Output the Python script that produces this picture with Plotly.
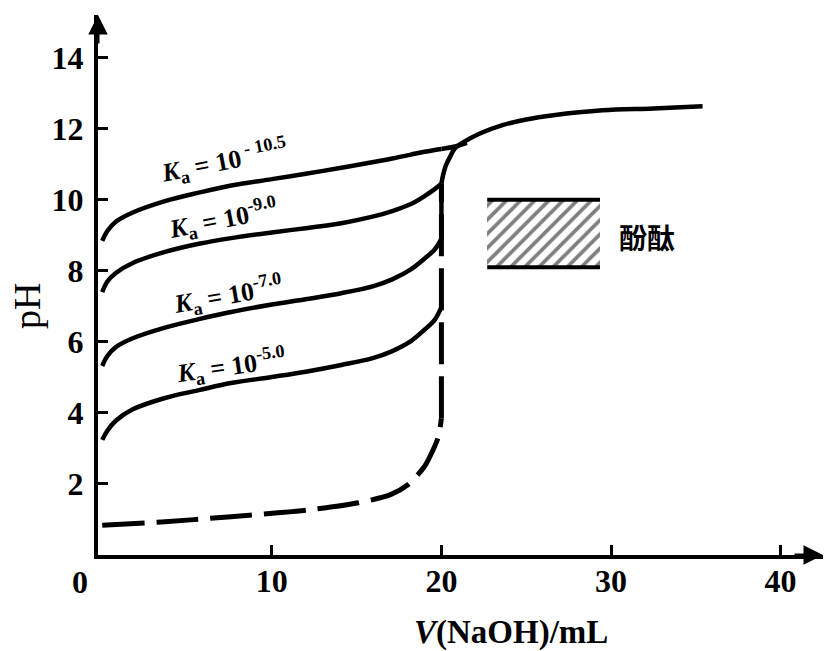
import plotly.graph_objects as go

# ---------------- data ----------------
# weak acids titrated with NaOH, V(NaOH)/mL vs pH
v_weak = [0, 0.3, 0.8, 1.8, 3.7, 5.7, 7.6, 10.0, 12.0, 14.1, 16.0, 17.1, 18.2, 19.0, 19.6, 20.0]
ph_ka_10_5 = [8.84, 9.12, 9.38, 9.64, 9.96, 10.2, 10.4, 10.58, 10.73, 10.9, 11.06, 11.16, 11.27, 11.35, 11.4, 11.43]
ph_ka_9 = [7.4, 7.7, 7.94, 8.22, 8.53, 8.76, 8.92, 9.08, 9.2, 9.34, 9.53, 9.68, 9.88, 10.1, 10.3, 10.45]
ph_ka_7 = [5.32, 5.6, 5.85, 6.1, 6.4, 6.64, 6.84, 7.05, 7.2, 7.37, 7.57, 7.76, 8.04, 8.34, 8.6, 8.9]
ph_ka_5 = [3.24, 3.5, 3.78, 4.1, 4.42, 4.64, 4.84, 5.01, 5.16, 5.35, 5.55, 5.74, 6.02, 6.34, 6.62, 6.98]

# tail of the Ka = 10^-10.5 curve after it crosses the excess-base curve
v_ka_10_5_tail = [20.0, 20.8, 21.5]
ph_ka_10_5_tail = [11.43, 11.5, 11.6]

# strong acid (dashed)
v_strong = [0, 3.5, 7.4, 10.2, 12.2, 15.1, 17.0, 18.0, 19.0, 19.5, 19.82, 20.0]
ph_strong = [0.84, 0.93, 1.07, 1.18, 1.27, 1.47, 1.7, 1.97, 2.49, 2.95, 3.33, 3.85]

# after the equivalence point (excess NaOH, common to all curves)
v_excess = [20.0, 20.1, 20.25, 20.5, 20.8, 21.3, 22.3, 23.6, 25.0, 26.6, 29.5, 32.5, 35.4]
ph_excess = [10.45, 10.7, 10.95, 11.2, 11.45, 11.62, 11.87, 12.1, 12.26, 12.38, 12.52, 12.57, 12.63]

v_equivalence = 20.0

# phenolphthalein colour-change range
indicator_name = "酚酞"
indicator_ph = [8.1, 10.0]
indicator_v = [22.7, 29.35]

ka_labels = [
    "<b><i>K</i><sub>a</sub> = 10<sup> - 10.5</sup></b>",
    "<b><i>K</i><sub>a</sub> = 10<sup>-9.0</sup></b>",
    "<b><i>K</i><sub>a</sub> = 10<sup>-7.0</sup></b>",
    "<b><i>K</i><sub>a</sub> = 10<sup>-5.0</sup></b>",
]
ka_label_x = [7.2, 7.1, 7.4, 7.6]
ka_label_y = [11.1, 9.45, 7.32, 5.32]
ka_label_angle = [-11, -11, -10, -8]

x_ticks = [10, 20, 30, 40]
y_ticks = [2, 4, 6, 8, 10, 12, 14]

# ---------------- figure ----------------
SERIF = "Liberation Serif"
LW = 4.5
fig = go.Figure()

solid = dict(color="black", width=LW)
smooth = dict(color="black", width=LW, shape="spline", smoothing=1.0)

# indicator hatched box
fig.add_trace(go.Bar(
    x=[(indicator_v[0] + indicator_v[1]) / 2],
    y=[indicator_ph[1] - indicator_ph[0]],
    base=[indicator_ph[0]],
    width=[indicator_v[1] - indicator_v[0]],
    marker=dict(color="white", line=dict(width=0),
                pattern=dict(shape="/", fgcolor="black", bgcolor="white",
                             size=10, solidity=0.38)),
    showlegend=False, hoverinfo="skip"))
for ph in indicator_ph:
    fig.add_shape(type="line", xref="x", yref="y",
                  x0=indicator_v[0], x1=indicator_v[1], y0=ph, y1=ph,
                  line=dict(color="black", width=4))

# strong acid dashed curve + vertical jump
dash = "42px,12px"
fig.add_trace(go.Scatter(x=v_strong, y=ph_strong, mode="lines",
                         line=dict(color="black", width=5, dash=dash, shape="spline", smoothing=0.8),
                         showlegend=False, hoverinfo="skip"))
fig.add_trace(go.Scatter(x=[v_equivalence, v_equivalence], y=[ph_strong[-1], ph_excess[0]],
                         mode="lines", line=dict(color="black", width=5, dash=dash),
                         showlegend=False, hoverinfo="skip"))

# weak acid curves
for ys in [ph_ka_10_5, ph_ka_9, ph_ka_7, ph_ka_5]:
    fig.add_trace(go.Scatter(x=v_weak, y=ys, mode="lines", line=smooth,
                             showlegend=False, hoverinfo="skip"))
fig.add_trace(go.Scatter(x=v_ka_10_5_tail, y=ph_ka_10_5_tail, mode="lines", line=smooth,
                         showlegend=False, hoverinfo="skip"))
# solid vertical rise of Ka = 10^-7 curve up to the excess-base branch
fig.add_trace(go.Scatter(x=[v_equivalence, v_equivalence], y=[ph_ka_7[-1], ph_excess[0]],
                         mode="lines", line=solid, showlegend=False, hoverinfo="skip"))
# excess NaOH branch
fig.add_trace(go.Scatter(x=v_excess, y=ph_excess, mode="lines", line=smooth,
                         showlegend=False, hoverinfo="skip"))

# Ka labels
for t, x, y, a in zip(ka_labels, ka_label_x, ka_label_y, ka_label_angle):
    fig.add_annotation(x=x, y=y, xref="x", yref="y", text=t, showarrow=False,
                       textangle=a, xanchor="center", yanchor="middle",
                       font=dict(family=SERIF, size=26, color="black"))

# indicator label
fig.add_annotation(x=indicator_v[1] + 1.0, y=sum(indicator_ph) / 2 - 0.1, xref="x", yref="y",
                   text=indicator_name, showarrow=False, xanchor="left", yanchor="middle",
                   font=dict(family="Noto Sans CJK SC", size=28, color="black", weight="bold"))

# axis titles
fig.add_annotation(x=0.5697, y=0, xref="paper", yref="paper", yshift=-77,
                   xanchor="center", yanchor="middle",
                   text="<b><i>V</i>(NaOH)/mL</b>", showarrow=False,
                   font=dict(family=SERIF, size=33, color="black"))
fig.add_annotation(x=0, y=0.461, xref="paper", yref="paper", xshift=-71,
                   xanchor="center", yanchor="middle",
                   text="pH", textangle=-90, showarrow=False,
                   font=dict(family=SERIF, size=38, color="black"))
# origin label
fig.add_annotation(x=0, y=0, xref="paper", yref="paper", xshift=-18, yshift=-27,
                   xanchor="center", yanchor="middle",
                   text="0", showarrow=False,
                   font=dict(family=SERIF, size=32, color="black", weight="bold"))

# axis arrows
fig.add_annotation(x=1, y=0, xref="paper", yref="paper", ax=-30, ay=0,
                   axref="pixel", ayref="pixel", text="", showarrow=True,
                   arrowhead=2, arrowsize=1.3, arrowwidth=3, arrowcolor="black")
fig.add_annotation(x=0, y=1, xref="paper", yref="paper", ax=0, ay=30,
                   axref="pixel", ayref="pixel", text="", showarrow=True,
                   arrowhead=2, arrowsize=1.3, arrowwidth=3, arrowcolor="black")

axis_common = dict(showline=True, linecolor="black", linewidth=4, showgrid=False,
                   zeroline=False, ticks="inside", ticklen=10, tickwidth=3,
                   tickcolor="black",
                   tickfont=dict(family=SERIF, size=32, color="black", weight="bold"))

fig.update_layout(
    width=833, height=651,
    margin=dict(l=98, r=10, t=15, b=96),
    paper_bgcolor="white", plot_bgcolor="white",
    xaxis=dict(range=[-0.25, 42.5], tickvals=x_ticks, ticklabelstandoff=-5, **axis_common),
    yaxis=dict(range=[0, 15.2], tickvals=y_ticks, ticklabelstandoff=4, **axis_common),
    showlegend=False,
    bargap=0,
)

fig.write_html("out.html")
